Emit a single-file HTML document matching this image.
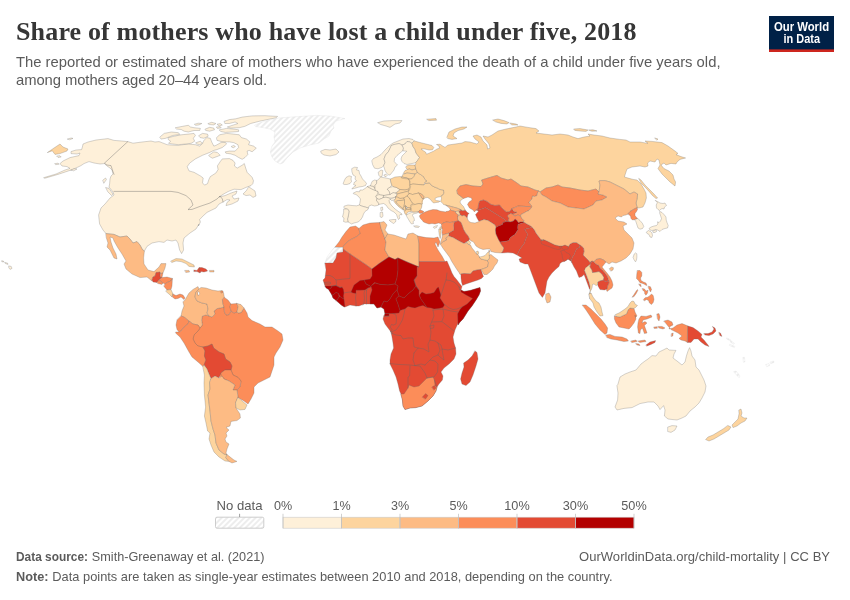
<!DOCTYPE html>
<html lang="en">
<head>
<meta charset="utf-8">
<title>Share of mothers who have lost a child under five, 2018</title>
<style>
html,body{margin:0;padding:0;background:#fff;}
body{width:850px;height:600px;overflow:hidden;position:relative;font-family:"Liberation Sans",sans-serif;}
#chart{position:absolute;left:0;top:0;width:850px;height:600px;display:block;}
.title{font-family:"Liberation Serif",serif;font-weight:700;fill:#363636;}
.sub{font-family:"Liberation Sans",sans-serif;fill:#5b5b5b;}
.foot{font-family:"Liberation Sans",sans-serif;fill:#5b5b5b;}
.leg{font-family:"Liberation Sans",sans-serif;fill:#5b5b5b;}
.logo{font-family:"Liberation Sans",sans-serif;font-weight:700;fill:#fff;}
</style>
</head>
<body>
<svg id="chart" width="850" height="600" viewBox="0 0 850 600">
<defs>
<pattern id="hatch" patternUnits="userSpaceOnUse" width="4" height="4" patternTransform="rotate(-45 2 2)">
<path d="M -1,2 l 6,0" stroke="#ccc" stroke-width="0.7"/>
</pattern>
</defs>
<rect width="850" height="600" fill="#fff"/>
<g id="header">
<text class="title" x="16" y="40.1" font-size="26" textLength="620.5" lengthAdjust="spacing">Share of mothers who have lost a child under five, 2018</text>
<text class="sub" x="16" y="67" font-size="14.8" textLength="704.5" lengthAdjust="spacing">The reported or estimated share of mothers who have experienced the death of a child under five years old,</text>
<text class="sub" x="16" y="85" font-size="14.8" textLength="251" lengthAdjust="spacing">among mothers aged 20–44 years old.</text>
</g>
<g id="logo">
<rect x="769" y="16" width="65" height="36" fill="#002147"/>
<rect x="769" y="49.4" width="65" height="2.6" fill="#ce261e"/>
<text class="logo" x="773.9" y="30.9" font-size="12" textLength="55.2" lengthAdjust="spacingAndGlyphs">Our World</text>
<text class="logo" x="783.5" y="42.8" font-size="12" textLength="36.5" lengthAdjust="spacingAndGlyphs">in Data</text>
</g>
<g id="map" stroke-linejoin="round" stroke-linecap="round" stroke="#666666" stroke-width="0.5" stroke-opacity="0.55">
<g fill="#fef0d9">
<path d="M44,177.6 56,174 65,170 70,168.4 67,166.6 62,166 60,163.6 63,161 70,157.6 79,155.6 80,153 77,154 71,153.6 71,151.6 76,150 81.6,149.6 82.4,147 83,144 88,142 96,140 108,138.6 114,140.4 122,141 127.8,141.6 133,143.2 142,142 151,141 155,142 159,141.6 160,141.9 167.1,144.7 177,145.4 188.3,144 195.4,144.7 199.7,146.1 202.5,143.3 203.9,140.5 206.7,137.6 210.3,138.3 211.7,141.9 213.8,146.1 215.9,145.4 220.9,142.6 225.2,142.3 226.6,144 222.3,147.5 216.7,149.7 213.8,150.4 209.6,152.5 202.5,155.3 195.4,158.9 189.7,163.1 187.2,166.7 189,170.9 194,172.3 200.4,175.9 203.2,178 202.5,182.9 204.6,185.1 207.5,183.7 208.9,179.4 210.3,176.6 215.9,173 218.1,169.5 217.4,165.9 220.2,161.7 222.3,158.9 229.4,158.6 232.9,160.3 235.1,163.1 234.4,165.9 237.2,168.1 242.2,165.2 244.3,163.5 245.7,168.1 247.1,172.3 252.1,177.3 253.5,180.8 252.8,183.7 251,185.6 247,187 241,189.6 234,189.2 228,191.6 223,194.4 219,197 225,195.6 231,193 237,191 236,194 232,196 234,199 239,198 238,201 232,204 226,205.6 227,202.4 230,200 227,199.6 223,202 219,204 216,208 211,210.4 207,212.4 203,216 199.6,219.6 200.4,222 198.4,226 199,224 196,229 190,233 184,238 183,243 183.6,250 181.6,253.6 179.6,250 178,243 176,240 172,241 167,240 164,242.4 159,241.6 152,243 147,246.4 144.4,251 142.4,249.6 140,245 137,241.6 133,243 130,239 127,236 120,237 114,234.4 106,233.6 103,230 99.6,224 98.6,215 101,208 105,204 110,198 114,195 113,192 109,187 109.6,184 110,179 111,176 113,174 112,170 110,168 107,166 104.4,163.6 100,164 94,163 89,161.6 84,163.6 81,165.6 76,168 70,170.4 58,174.4 45,178.2Z"/>
<path d="M106,187.6 109,188.4 113,194 111.6,195.6 108,192Z"/>
<path d="M103,180 105.6,178 106.4,179.6 104,183Z"/>
<path d="M71,170 74.4,168.6 77,169 74,170.6Z"/>
<path d="M67.6,139 71,138 73,138.4 70,139.6Z"/>
<path d="M57,156 60,155.8 61.2,157 58.4,157.4Z"/>
<path d="M55,163.6 58,163.2 59.2,164.2 56,164.6Z"/>
<path d="M216.7,137.6 219.5,134.8 226.6,133.4 233.7,134.1 239.3,134.8 241.4,137.6 246.4,139 249.9,141.9 248.5,144.7 253.5,146.1 256.3,148.2 252.1,151.8 249.2,150.4 247.1,151.1 247.8,154.6 245,157.5 242.2,159.3 238.6,157.5 235.1,155.3 230.8,153.9 225.9,153.2 225.2,151.8 229.4,151.1 235.1,151.1 238.6,147.5 237.9,144.7 233.7,142.6 229.4,141.9 225.9,141.9 220.9,141.4 217.4,140.5Z"/>
<path d="M231.5,146.4 233.7,145.4 235.4,146.5 233.4,147.7Z"/>
<path d="M208.9,155.3 213.8,151.8 217.4,152.5 220.2,155.3 216.7,156.7 212.4,158.2 210.3,157Z"/>
<path d="M168.5,137.6 174.2,136.2 181.2,134.8 188.3,134.1 194,133.4 195.4,135.5 193.3,138.3 194.7,141.2 191.2,143.3 185.5,144 178.4,144.7 172.7,144 168.5,143.3 170.6,141.2 168.5,139.7Z"/>
<path d="M160,136.9 164.2,133.4 171.3,132 178.4,132.7 179.8,134.4 172.7,135.5 165.7,138.3 161.4,139Z"/>
<path d="M199,135.5 202.5,133.4 207.5,134.1 208.2,136.2 203.9,138.3 200.4,137.6Z"/>
<path d="M196.1,142.6 200.4,141.2 202.5,143.3 199.7,144.7 196.8,144Z"/>
<path d="M175.6,127.7 182.7,126.3 188.3,125.3 190.5,127 194,127.7 200.4,128.4 199.7,130.5 194,130.5 188.3,132 184.1,131.2 181.2,129.5 177,129.1Z"/>
<path d="M194.7,124.2 198.2,123.2 201.8,123.5 199,124.9 196.1,125.3Z"/>
<path d="M219.5,129.8 226.6,128.4 233.7,129.1 238.6,129.8 238.6,131.5 232.2,132 225.2,132.4 220.9,131.5Z"/>
<path d="M205.3,129.1 209.6,127.3 213.8,128.1 214.5,129.8 209.6,131.2 206,130.5Z"/>
<path d="M208.2,123.5 211.7,122.3 215.9,123.5 213.8,124.9 209.6,124.6Z"/>
<path d="M217.4,124.2 220.2,123.6 222.3,125 219.5,125.9Z"/>
<path d="M216.7,127 220.2,126.6 221.2,127.8 217.8,128.4Z"/>
<path d="M224.4,121.3 229.4,119.6 235.8,118.8 242.2,117.1 252.1,115.9 264.8,115.7 277.6,116.4 276.1,117.8 269.1,119.2 259.2,121.3 250.7,123.5 245,126.3 239.3,127.7 230.8,128.1 227.3,127 233.7,124.9 237.9,123.5 235.1,122 229.4,123.5 225.2,123.5Z"/>
<path d="M249,187 252,189 255,191 256,196 253,197.4 250,195 246,195.6 243,194 246,191Z"/>
</g>
<g fill="#fdd49e">
<path d="M47.6,152.4 54,148 60,144 63,147 68,149 67,151 60,153.6 55,154.4 52.4,151Z"/>
</g>
<g fill="#fdbb84">
<path d="M106,233.6 114,234.4 120,237 127,236 130,239 133,243 137,241.6 140,245 142.4,249.6 144.4,251 143.6,258 144,264 148,270 154,271.6 159,267 161,263.6 166,263.6 165,268 163,273 160.4,273.6 160,272 156,273 155,276 153,277 152,281 147,277 140,277.6 132,274 126,269 124,264 126,261 122,254 118,248 114,241 113,238 110,237 111,242 113,248 116,254 117,259 114,258 110,250 107,247 108,243 106.4,238Z"/>
</g>
<g fill="#e34a33">
<path d="M153,277 155,276 156,272.4 160,272 160.4,277 162,277.6 159,280 157,282.4 153,282 152,280Z"/>
</g>
<g fill="#fc8d59">
<path d="M160.4,273.6 163,273 162,277.6 160.4,277Z"/>
<path d="M162,277.6 167,277 172.4,278.4 171,281 168,282 165,284 163,283 159,280Z"/>
<path d="M157,282.4 159,280 163,283 162,284.4 158,283.6Z"/>
<path d="M165,284 168,282 171,281 172.4,278.4 172,286 171,289.6 167,290 164,286.4Z"/>
</g>
<g fill="#fdd49e">
<path d="M167,290 171,289.6 173,294 172,297 169,294 166,291.6Z"/>
</g>
<g fill="#fc8d59">
<path d="M173,294 176,295.6 180,294 183,295 185,298 184,299.6 181,297 178,298.4 175,299 172.4,297Z"/>
</g>
<g fill="#fdd49e">
<path d="M171,261 176,258.6 182,259 188,262 194,265 194.4,267 189,266.4 186,263.6 181,261.6 176,261 172,262.4Z"/>
</g>
<g fill="#fdbb84">
<path d="M185,270.4 189,270.4 189.6,272 186,272.4Z"/>
</g>
<g fill="#e34a33">
<path d="M194,270 197,270.4 199,267.6 202,267.6 206,269 207.6,271 204,272 201,271.6 200,273 197,271.6 194,271.6Z"/>
</g>
<g fill="#fdbb84">
<path d="M209.6,270.4 214,270.4 214,272 210,272Z"/>
</g>
<g fill="#fdd49e" stroke="#fdd49e" stroke-width="0.8" stroke-opacity="1">
<path d="M393,181 405,178.5 415,177 423,185 424,195 421,207 415,209 409,209 405,207 400,203 398.5,195 400,191 396,186.5Z"/>
</g>
<g fill="#fef0d9" stroke="#fef0d9" stroke-width="0.8" stroke-opacity="1">
<path d="M365,190 377,182 389,180 391,188 395,189 395,196 389,199 391,205 395,209 391,209 385,203 378,203 375,205 365,205 361,200Z"/>
</g>
<g fill="#fc8d59" stroke="#fc8d59" stroke-width="0.8" stroke-opacity="1">
<path d="M190,325 240,325 270,345 262,375 240,381 222,379 218,373 210,369 190,351Z"/>
</g>
<g fill="url(#hatch)" stroke="#d6d6d6">
<path d="M255,125 262,122 278,118 298,116.6 316,115.4 330,116 345,118.6 336,121 333,125 334,128 331,131 329,136 324,139 319,143 310,145 300,148 293,152 287,158 283,163 280,164 275,161 272,157 270.4,152 272,146 275,142 274,137 275,132 270,129 262,127.4 256,126.6Z"/>
</g>
<g fill="#fef0d9">
<path d="M321,151 325,149.4 330,150 336,149 339,152 336,154.6 330,156 324,155 321.6,153.4Z"/>
<path d="M378,122.6 384,121 392,120.6 402,120.6 400,123 395,124 390,127.4 386,126 381,124.6Z"/>
</g>
<g fill="#fc8d59">
<path d="M244,308 247,313 248,317 252,320.6 260,324 265,327 272,327 278,331 282,334 283,340 280,347 276,353 274,357 274,365 272,371 270,377 264,380 258,383 254,387 254,393 251,399 248,404 244,401 238,397.4 237,390 240,387 241,381 238,377.4 233,375 231,370 232,366 230,362 225.6,359 224,354 219,352 213.6,348 212,344 208,346 203,347 198,346 195,343 193,339 194,335 198,331 200,328 202.4,325 201.6,320 202.4,316 206,315 209,316 212,317 215,314 214,311 217,308.6 220,308 224,307 224.4,312 226,315 229,314.6 231,311 234,313 237,312 238,313 241,312.6Z"/>
</g>
<g fill="#fdbb84">
<path d="M185,300 189,293 193,289.4 198,286.6 199,289 195.6,293 195,297 197,301 202,303 207,304 208,309 207,313 209,316 206,315 202.4,316 201.6,320 202.4,325 200,328 198,325 193,324 189,321 184,317 181,316 182,311 184,306 183,302Z"/>
<path d="M199,289 201,287.4 206,288 212,290 218,291 222,290.6 223.6,293 224.4,297.4 222.4,300 223,304 224,307 220,308 217,308.6 214,311 215,314 212,317 209,316 207,313 208,309 207,304 202,303 197,301 195,297 195.6,293Z"/>
</g>
<g fill="#ffffff">
<path d="M197.6,292.2 199,291.6 199.8,294 198.4,295.4Z"/>
</g>
<g fill="#fc8d59">
<path d="M224.4,297.4 228,300 231,304 230,307 231,311 229,314.6 226,315 224.4,312 224,307 223,304 222.4,300Z"/>
<path d="M231,304 237,303.4 238,307 237,312 234,313 231,311 230,307Z"/>
</g>
<g fill="#fdbb84">
<path d="M237,303.4 241,304.6 244,308 241,312.6 238,313 237,312 238,307Z"/>
</g>
<g fill="#fc8d59">
<path d="M181,316 184,317 189,321 188,324 184,327 181,331 179,332 177,329.4 176,325 177,320Z"/>
<path d="M176,332 179,332 181,331 184,327 188,324 189,321 193,324 198,325 200,328 198,331 194,335 193,339 195,343 198,346 203,347 205,351 204.4,356 206,360 204,365 203,366.6 198,362 192,357 189,352 184,343 180,337 175.6,333Z"/>
</g>
<g fill="#e34a33">
<path d="M203,347 208,346 212,344 213.6,348 219,352 224,354 225.6,359 230,362 232,366 231,370 225,370 221,373 219,378 215,376 211,378.6 209,374 207,369 204,365 206,360 204.4,356 205,351Z"/>
</g>
<g fill="#fc8d59">
<path d="M221,373 225,370 231,370 233,375 238,377.4 241,381 240,387 237,390 233,390 235,385 229,381 224,379 222,376Z"/>
</g>
<g fill="#fdd49e">
<path d="M203,366.6 204,365 207,369 209,374 211,378.6 209.6,383 210,389 208,395 209,403 210,411 211,421 213,429 215,435 216,443 219,450 224,454 227,454.6 226,458 229,461.4 225,461 219,457 214,452 211,445 209,439 210,433 207.6,431 206,423 204.4,416 205.6,407 204.4,395 204,383 204.4,375 204,373Z"/>
</g>
<g fill="#fdbb84">
<path d="M211,378.6 215,376 219,378 222,376 224,379 229,381 235,385 233,390 237,390 238,397.4 235.6,403 236,408 240,414 240.4,418 237,420.6 231,421.4 230,426 226,427.4 229,430 226,433 227,436 225,439 226,442 229,444 227,449 226,453 227,454.6 224,454 219,450 216,443 215,435 213,429 211,421 210,411 209,403 208,395 210,389 209.6,383Z"/>
<path d="M227,454.6 234,460 237,461.4 232,463 229,461.4 226,458Z"/>
</g>
<g fill="#fdd49e">
<path d="M238,397.4 241,400 247,405 245,409.4 240,410 236,408 235.6,403Z"/>
</g>
<g fill="#fef0d9">
<path d="M372,160.5 373.5,158.5 377,157 381,154.5 385,150 389,146 393,143 398,141 403,139 409,138.5 413,139.5 414.5,141 412,143.5 410,142 407,141.5 405,144 402,145 399,143.5 397,144 394,144.5 391.5,145.5 390,148.5 388.5,151.5 385.5,155 384,159 385,162.5 383.5,166 381.5,167.5 378,168.8 374.5,168.2 372.8,165Z"/>
<path d="M391.5,145.5 394,144.5 397,144 399,143.5 402,145 403.5,148 403,150.5 400,153 397,155.5 394.5,158.5 394.2,161.5 396,163.5 397.5,165 395,167 394,170 392,172.5 390,175 388.5,175 386.5,173 385,170.5 384,167 383.5,166 385,162.5 384,159 385.5,155 388.5,151.5 390,148.5Z"/>
<path d="M403,150.5 403.5,148 402,145 405,144 407,141.5 410,142 412,143.5 413,146.5 415,149.5 416,153 419.5,157.5 417.5,160.5 415.5,162.8 412,163.5 407,164.5 404,163.5 402,161.5 401,159 402,156 404,154 406.5,151.5Z"/>
<path d="M378.5,172 381,170 382.8,170.5 382.5,174 382,176.5 380.5,177 379,175.5Z"/>
<path d="M384.3,174.8 386,174.2 387.2,175.5 386,176.7 384.6,176.2Z"/>
<path d="M343.2,183.5 344.5,180 346,177.5 349,175.8 351.5,176.5 351,179 351.5,181.5 350,183.5 347,184.5 344.5,184.5Z"/>
<path d="M352,168.5 354.5,167.2 357.5,167.5 356.5,170 359,170.5 359.5,173.5 361,176 362.5,179 365,181.5 366.5,183.5 365.5,185.5 362.5,186.5 359,187 355,188.2 351.8,189 353.5,187 356,185.5 353.5,184.5 354.5,182 356.5,181 355,179 355.5,176.5 353,175 352,172Z"/>
<path d="M353.5,193 356.5,191.5 359.5,191.8 360,190 362.5,190 365,188.5 367.5,186.5 370,188 373,189.5 375.5,190.5 378,191.5 377.5,194 376,196 377,198.5 376.5,200.5 378.5,203 379,204.5 377.5,205.5 374.5,206 371.5,205 369,206 368.5,208 365,207 361.5,206 359.5,205 360,202 360.5,199 358.5,196.5 356,194.5 354,194Z"/>
<path d="M381,207.5 382.5,207 382.8,210 381.5,210.8Z"/>
<path d="M344.5,206 348,205 352,205.5 356.5,205.8 359.5,205 361.5,206 365,207 368.5,208 368,209.5 365,211.5 363.5,214 362.5,217 360.5,220 358,222 354,223 351.5,224 350,223 348,222 347.5,219 348.5,215 349,211 347.5,209 345,208.8 344,207.5Z"/>
<path d="M344,209 347.5,209 349,211 348.5,215 347.5,219 348,222 345.5,222.2 343.5,221.5 344,218 342.5,217 343.5,213Z"/>
<path d="M367.5,186.5 370.5,185.5 373.5,186.5 375,188.5 375.5,190.5 373,189.5 370,188Z"/>
<path d="M370.5,185.5 372,181.5 374.5,180 377,180.5 376.5,183.5 375,185.5 375,188.5 373.5,186.5Z"/>
<path d="M377,180.5 379,179 380.5,177 383,177.5 386,178 390.5,179 391,182.5 392,185.5 389.5,187.5 387.5,189 389.5,192 390,194.5 387,195 384,195.5 380.5,195 379,194.5 378,191.5 375.5,190.5 375,188.5 375,185.5 376.5,183.5Z"/>
<path d="M376,196 379,194.5 380.5,195 384,195.5 383.5,197.5 381.5,198.5 379,199.5 377,198.5Z"/>
<path d="M384,195.5 387,195 390,194.5 393,192.5 396,193 397,195 395.5,197 393,198 389,198 386,197.2 383.5,197.5Z"/>
<path d="M387.5,189 389.5,187.5 393,186.5 396.5,187.5 400,189.5 398,191.5 396,193 393,192.5 390,194.5 389.5,192Z"/>
<path d="M378.5,203 376.5,200.5 377,198.5 379,199.5 381.5,198.5 383.5,197.5 386,197.2 389,198 390.5,199 389,200.5 389.5,203 392,206 395,209 398.5,211.5 401.5,213.5 402,214.8 400,214.5 399,216 400,218 398.5,219.5 397.5,217.5 396.5,214.5 394,212 391,210.5 388,208 386,205 383.5,203.5 381,204 379,204.5Z"/>
<path d="M389.5,220 393,219.5 396,219.5 395.5,222 393.5,223.5 390.5,221.5Z"/>
<path d="M380.5,212.5 382.5,212 383,216 382,217.5 380.5,217Z"/>
<path d="M390.5,199 393,198 395.5,197 395.5,198.5 394.5,200 392,200.5Z"/>
<path d="M406.5,215 409,213.5 411.5,212.5 414,212 416.5,211.8 418.5,211.5 417.5,213 415,213.5 413,214 412.5,215.5 414,218 414.5,220.5 413,221.5 413.5,223.5 411.5,224 410,222 408.5,219.5 407,217Z"/>
<path d="M414,226 417,225.8 419.5,226.5 418.5,227.5 415.5,227.2Z"/>
</g>
<g fill="#fdd49e">
<path d="M390.5,179 395,177 400,176.5 405,177.5 408.5,178 409.5,181.5 410,185 409,189 405,190 400,189.5 396.5,187.5 393,186.5 392,185.5 391,182.5Z"/>
<path d="M398,191.5 400,189.5 405,190 409,189 408.5,191 405,192 401,193 397,194 396,193Z"/>
<path d="M397,195 397,194 401,193 405,192 408.5,191 409.5,193 407,196 404,198 400,198.5 397,197 395.5,197Z"/>
<path d="M394.5,200 395.5,198.5 395.5,197 397,197 400,198.5 404,198 404.5,200 401,200.5 398,200.5 396,201.5 397.5,204 401,207 404,209.5 403,210 399,207 395.5,203.5 394,201.5Z"/>
<path d="M396,201.5 398,200.5 401,200.5 404.5,200 404.5,203.5 404,206.5 403,208.5 401,207 397.5,204Z"/>
<path d="M404,198 407,196 409.5,198 411,201 412.5,203 411.5,206 410,208 407.5,207.5 405.5,206 404,206.5 404.5,203.5 404.5,200Z"/>
<path d="M403,208.5 404,206.5 405.5,206 407.5,207.5 410,208 411.5,209 411,211.5 408.5,212 407,213 406.5,215 405,214 404,211 404,209.5Z"/>
</g>
<g fill="#ffffff">
<path d="M405.8,207.4 407,207 407.6,208 406.6,208.8Z"/>
</g>
<g fill="#fdd49e">
<path d="M406.5,166 409,165 415,165 415.8,169 412,170 409.5,169 407.5,169.5 406,168Z"/>
<path d="M403.5,173 405,170.5 407.5,169.5 409.5,169 412,170 415.8,169 417.5,172.5 415,174 411,173.5 407,173 404,174Z"/>
<path d="M404,174 407,173 411,173.5 415,174 414,176.5 411.5,179 409,179 407,178 404.5,177.5 402,177 402.5,175Z"/>
<path d="M401.5,177 404.5,177.5 407,178 408.5,179 406,178.8 402,178.2Z"/>
<path d="M409,179 411.5,179 414,176.5 415,174 417.5,172.5 420.5,174.5 423.5,176.5 425,179.5 427,181 424.8,182.5 424,185 418.5,184.5 413,184 410,184.8 410,181.5Z"/>
<path d="M410,184.8 413,184 418.5,184.5 424,185 425.5,183.5 429.5,182.8 431,185 434,186.8 437.2,188 440,189.5 443.5,190 444,193 443,195 441,196 440,196.8 437.5,197.2 435.2,198.3 435,199.5 436.2,200.5 438.5,200.8 440,201.2 438.5,202.2 436,202.5 433.5,203 431.8,201.2 430,199 427.5,197.5 425.5,197.8 423.5,199 423.8,196.5 421.5,194 418.5,193 416.5,193.5 412.5,194.5 409,193.5 408,192 409.5,190 410.5,187Z"/>
</g>
<g fill="#fdbb84">
<path d="M418.5,193 421.5,194 423.8,196.5 423.5,199 422,198.5 420.5,196 418,193.5Z"/>
</g>
<g fill="#fdd49e">
<path d="M409.5,193.5 412.5,194.5 416.5,193.5 418.5,193 420.5,196 422,198.5 423.5,199 422.5,200 422,202 422.5,204 419,203.5 415,204.5 412.5,203 411,201 409.5,198 407,196 408.5,194.5Z"/>
<path d="M411,205 415,204.5 419,203.5 422,204.5 421.5,208 420,210 418.5,211.5 416.5,211.8 414,212 411.5,211.5 410.5,209 411,207Z"/>
<path d="M414.5,141 420,142.5 426,144 432,145.5 433.8,147.5 432.5,149.8 429,150 424,148.8 421,149 423.5,150.8 425.5,152 426.5,154.2 429,153.2 433.5,151.2 437,149 439.5,148.2 439,146 436.5,144.5 440,144.2 443,146.2 445,147.4 448,145 455,144 462,143 465,141.6 470,142 477,144 479,142 475,139 473,136 477,135 481,137 483,141 487,145 487.6,149 490,148 489,144 485,139 483,136 488,137 492,135 498,131 506,129 516,127 520,126 528,127.4 536,128.6 539,131 536,133 544,134 552,135 560,134 568,135 573,137 578,138.6 584,137 590,136 588,134 594,135 602,136 610,138 610,138 620,139.4 626,140 630,142 640,142 648,143.4 645,141 652,141.4 662,142.6 668,146 675,151 678,153.4 676,154.6 681,156.6 685.6,158 680,159.4 677,162 676,164 671,163.4 666,165 664,163 661,165 664,168.6 669,171 673,175 674,179 675.6,182 675,186 670,182 666,178 662,174 659,170 658,168.6 660,165 659,160 657,159 655,162 650,161 647.6,163 648,166 645,167 640,166 632,167 627,169 625,175 624.4,177 630,178.6 633,179.4 637,180 641,184 644,189 646,193 646.4,198 645,203 643,207 639,208 637.2,207.8 636,203 637,199 637.6,194 634,192 630,194 624,189 616,185 610,182 605,180.6 600,180.6 599,181 600,185 599,192 596,189 588,191 580,190 570,188 562,187 558,185 552,187 546,188 540,192 539,191 535,190 528,187 521,186 517,183 511,179 508,180 501,178 497,175.4 488,178 481.6,180 483,184 481,186.6 473,186 466,184.6 460,186 457,190 457.6,194 463.5,198.5 461,200 460,202 461,204 463.5,206.5 464.5,208.5 466,211 464.5,210.2 463,211 461.5,210.2 460,209.5 458,208.5 456,207.8 453.5,207.2 451,206.5 448.5,205.8 446,205.2 443.5,204.5 442,202.5 440.5,201.5 441.2,200 441.5,198.5 441,196.8 441,196 443,195 444,193 443.5,190 440,189.5 437.2,188 434,186.8 431,185 429.5,182.8 425.5,183.5 424.8,182.5 427,181 425,179.5 423.5,176.5 420.5,174.5 417.5,172.5 415.8,169 415,165 416,164 415.5,162.8 415.5,162.8 417.5,160.5 419.5,157.5 416,153 415,149.5 413,146.5 412,143.5Z"/>
<path d="M447,137 449,132 455,129 462,127 467,127 464,129 458,130.6 454,133 453,136 457,138.6 452,139.4 448,138.6Z"/>
<path d="M493,120 498,119 504,120.6 509,122.6 507,124 501,123.4 496,122Z"/>
<path d="M510,123 516,124 518,125 512,125Z"/>
<path d="M574,129 580,128.6 588,130 586,131.4 580,131 575,130.4Z"/>
<path d="M589,130 593,129.8 597,131 592,131.2Z"/>
<path d="M639,178.6 641,180 645,185 650,190 654,194 657.6,198 656,198.6 652.4,195.4 649,191.4 645,187 641,183Z"/>
<path d="M655,138 658,139 657,140Z"/>
</g>
<g fill="#fc8d59">
<path d="M457,190 460,186 466,184.6 473,186 481,186.6 483,184 481.6,180 488,178 497,175.4 501,178 508,180 511,179 517,183 521,186 528,187 535,190 539,191 537.5,193 537,195.5 534.5,196.5 532.5,196 532,199 530,201 529,202.5 530.5,204.5 532,206 531.5,207.5 530,206.5 526,206.5 522,206.2 518,206 515,207.5 512,208.5 511,210 509,212 506.5,212 504,210 501.5,207.5 499.5,205 495,205.5 491,204.5 487,201.5 483.5,200 480,201 479.5,201.5 478.5,205 478,209 476,210 474.5,212 473,210 469.5,208 467.5,204.5 469,202 472,200 471.5,198 468,197 463.5,198.5 457.6,194Z"/>
<path d="M540,192 546,188 552,187 558,185 562,187 570,188 580,190 588,191 596,189 599,192 598,194 603,195 607,197 602,200 596,201 593,205 584,209 576,208 568,207 560,203 552,201 546,197 542,195Z"/>
</g>
<g fill="#e34a33">
<path d="M478,209 478.5,205 479.5,201.5 480,201 483.5,200 487,201.5 491,204.5 495,205.5 499.5,205 501.5,207.5 504,210 506.5,212 509,212 511,210 512,208.5 514,211.5 517,212.2 515,213.5 512.5,214 510.5,213.5 509,214.5 507.5,216 509,218 508.5,220.5 510,222 507,221.5 504,219 500,216.5 496,214 492,211.5 488,209 485.5,207.5 483,208.5 480,209.5Z"/>
<path d="M476,210 478,209 480,209.5 483,208.5 485.5,207.5 488,209 492,211.5 496,214 500,216.5 504,219 507,221.5 503,222.5 502.5,224.5 498.5,226 496,227.5 495,225 492,223 488,220.5 484,219.5 480,221 479,221.5 477,218 475.5,214.5 477,213 478.5,211Z"/>
</g>
<g fill="#fc8d59">
<path d="M512,208.5 515,207.5 518,206 522,206.2 526,206.5 530,206.5 531.5,207.5 529,210.5 526.5,211.5 524,213 521,214.5 520.5,216 518,215 515,216 513,215 512.5,214 515,213.5 517,212.2 514,211.5Z"/>
<path d="M507.5,216 509,214.5 510.5,213.5 512.5,214 513,215 515,216 518,215 520.5,216 522,218.5 524,220.5 523.5,222 520,222 518.5,222.8 516.5,220 515,219 513.5,221 510,222 508.5,220.5 509,218Z"/>
</g>
<g fill="#fdbb84">
<path d="M446,205.2 448.5,205.8 451,206.5 453.5,207.2 456,207.8 458,208.5 460,209.5 461,210.5 459.5,211 457.5,211.2 455.5,211.6 453.5,211 451.5,210.5 450.2,209.5 449.5,208 447.8,206.8Z"/>
</g>
<g fill="#fdd49e">
<path d="M455.5,211.6 457.5,211.2 459.5,211 459,212 460,213.5 460.5,215 459.5,215.2 458.2,214.8 456.8,214 455.8,213Z"/>
</g>
<g fill="#e34a33">
<path d="M460,209.5 461.5,210.2 463,211 464.5,210.2 466,211 467.5,212.5 469.2,213.5 468,214.2 467.5,216 467.2,218 466,217 465,215.8 463.5,215.5 462,216 460.5,215 460,213.5 459,212 459.5,211 461,210.5Z"/>
<path d="M458.8,215.8 460,216.2 461,217.2 460,217.5 459,216.8Z"/>
</g>
<g fill="#fc8d59">
<path d="M420,215 422,213.5 425,212 429,210.5 433,209.5 437,209.8 440,211 443,211.5 446,212 446,211.6 449,211 450.2,209.5 451.5,210.5 453.5,211 455.5,211.6 455.8,213 456.8,214 458.2,214.8 458,216 457.8,218 458.5,220.8 454.5,221.8 454,221.8 450,222.5 446.5,222 443,223 441.5,224.5 440.5,223.5 438.5,223 435,224 432,223.5 429,224 426,223 423.5,222 422,220 420.5,218.5 419.5,216.5Z"/>
<path d="M418.5,211.5 420,210 422,210.5 424,211.8 422.5,213 420,213.5 418.8,212.8Z"/>
</g>
<g fill="#fef0d9">
<path d="M433.5,227 435.5,226 437.5,225.5 436.5,227.5 434.5,228.2Z"/>
</g>
<g fill="#fdbb84">
<path d="M458,216 459.5,215.2 460.5,215 462,216 463.5,215.5 465,215.8 466,217 467.2,218 468,220 469,221.5 471,222.5 475,223 479,221.5 480,221 484,219.5 488,220.5 492,223 495,225 496,227.5 495.5,230 496,234 498.5,239.5 500,242 501,244 504,248 503,251 501.5,253 495,252.5 491,251.5 490,249 487,249 483,249.5 479,248 476,246 474.5,243.5 473,241.5 471,241 469.5,239 468,236 465.5,233 463.5,229.5 462.5,226.5 461,222.5 458.5,220.8Z"/>
</g>
<g fill="#e34a33">
<path d="M449,233 454,230 453.5,225 454.5,221.8 458.5,220.8 461,222.5 462.5,226.5 463.5,229.5 465.5,233 468,236 469.5,239 469,240.5 467,241.5 464,243.5 459,241 453,237.5 448.5,236 449,234.5Z"/>
</g>
<g fill="#fc8d59">
<path d="M441.5,224.5 443,223 446.5,222 450,222.5 454,221.8 454.5,221.8 453.5,225 454,230 449,233 446,234 442.5,235 442,232.5 442.5,229.5 441.5,227Z"/>
</g>
<g fill="#b30000">
<path d="M496,227.5 498.5,226 502.5,224.5 503,222.5 507,221.5 510,222 513.5,221 515,219 516.5,220 518.5,222.8 520,222 523.5,222 524.5,222.5 521,223.5 518,224.5 517.8,227.5 518,230 516.5,232 515,234.5 512.5,236 510,238 509,240.5 505,241.5 500,242 498.5,239.5 496,234 495.5,230Z"/>
</g>
<g fill="#e34a33">
<path d="M518,224.5 521,223.5 524.5,222.5 527,224 530,225.5 532,227 530,228 527,228.5 524.5,229.5 526,231.5 527.5,234 527,236.5 525.5,239.5 524.5,243 523,245 520,249 517,255 513,253 508,252.6 501.5,253 503,251 504,248 501,244 500,242 505,241.5 509,240.5 510,238 512.5,236 515,234.5 516.5,232 518,230 517.8,227.5Z"/>
<path d="M532,227 534.5,230 536,233 539,237 541,239.5 544,240.5 541,240.5 543.5,239.5 547,241 551,243 555,245 559.5,246 562,246 565,245 568.5,246.5 570,244 573,242.5 576.5,242.5 580,245 579.5,247.5 577,248.5 575.5,251 574,255 572.5,257 571.5,260 572,263 571,261 569.5,260 568,259 566,260.5 564,261.5 562,262 560,263.5 559,266.5 556,269 552,273 549,277 547,281 546,287 545,293 542.4,297.4 539,293 536,285 533,277 530,269 528,264 525,264 520,262 519,259 522,258 517,255 520,249 523,245 524.5,243 525.5,239.5 527,236.5 527.5,234 526,231.5 524.5,229.5 527,228.5 530,228Z"/>
<path d="M541,240.5 543.5,239.5 547,241 551,243 555,245 559.5,246 560.5,249 558,249.5 554,248.5 550,247 546,245.5 542,244Z"/>
<path d="M562,246 565,245 568.5,246.5 568,249 564,249.5 562,248.5Z"/>
<path d="M561,251 564,250 566,252.5 569.5,254 570.5,256.5 569.5,258 571,261 569.5,260 568,259 566,260.5 564,261.5 562.5,258 562,254.5Z"/>
</g>
<g fill="#fdbb84">
<path d="M546,294 549,293 551,297 550,302 547,303 545.6,299Z"/>
<path d="M539,191 540,192 542,195 546,197 552,201 560,203 568,207 576,208 584,209 593,205 596,201 602,200 607,197 603,195 598,194 599,192 600,185 599,181 600,180.6 605,180.6 610,182 616,185 624,189 630,194 634,192 637.6,194 637,199 636,203 637.2,207.8 635,208.5 632.5,210 630,211.5 628,214 626,215 623,215.5 621.5,217 618,216 615,218 618,221 624,222 627,224 623,226 624,230 628,234 632,238 634,243 633,249 630,254 626,258 621,261 616,263 612,262 609,264 606,262 603.5,260 600,258.5 596,259.5 594,262 592,261 590,262.5 588,260 585.5,257.5 583,255 584,251.5 583.5,248 580,245 576.5,242.5 573,242.5 570,244 568.5,246.5 565,245 562,246 559.5,246 555,245 551,243 547,241 543.5,239.5 541,240.5 544,240.5 541,239.5 539,237 536,233 534.5,230 532,227 530,225.5 527,224 524.5,222.5 523.5,222 524,220.5 522,218.5 520.5,216 521,214.5 524,213 526.5,211.5 529,210.5 531.5,207.5 532,206 530.5,204.5 529,202.5 530,201 532,199 532.5,196 534.5,196.5 537,195.5 537.5,193Z"/>
</g>
<g fill="#fef0d9">
<path d="M633.2,257 634.2,254 635.5,252.9 636.8,253.8 636.9,257 636.5,260 635.5,261.8 634.2,260Z"/>
</g>
<g fill="#fdbb84">
<path d="M609.5,268.5 611.5,267 613.5,267.8 613,270 611,271Z"/>
</g>
<g fill="#e34a33">
<path d="M580,245 583.5,248 584,251.5 583,255 585.5,257.5 588,260 590,262.5 592,261 590.5,264 588,266 585.5,268 584.5,270.5 586,274 587.5,278 589,282 590,286 591,290 589.5,289 588,285 586.5,281 585,277 584,274.5 582,276.5 579,277.5 578,275 576.5,271 574,267 572,263 571.5,260 572.5,257 574,255 575.5,251 577,248.5 579.5,247.5Z"/>
</g>
<g fill="#fdd49e">
<path d="M585.5,268 588,266 590.5,264 590,267 592,270 592.5,272.5 596,272 599,271.5 602,274 604,277.5 603.5,280 600,281 598,282 597.5,285 596,285.5 594,284 592.5,284.5 592,288 591,290 589,294 591,293 590,299 590,286 589,282 587.5,278 586,274 584.5,270.5Z"/>
</g>
<g fill="#e34a33">
<path d="M590.5,264 592,261 594,262 596,264 599,265.5 600,268 602.5,270 605,273 607.5,276.5 608.5,280 606.5,282 604.5,281 603.5,280 604,277.5 602,274 599,271.5 596,272 592.5,272.5 592,270 590,267Z"/>
</g>
<g fill="#fc8d59">
<path d="M594,262 596,259.5 600,258.5 603.5,260 606,262 604,264.5 602,267 604,269.5 607,273 610,277 612,281 613,285 612,288 609,290 607,291.5 606.5,290 607.5,286 609,283 608.5,280 607.5,276.5 605,273 602.5,270 600,268 599,265.5 596,264Z"/>
</g>
<g fill="#e34a33">
<path d="M598,282 600,281 603.5,280 604.5,281 606.5,282 608.5,280 609,283 607.5,286 607,289 604.5,290 600,289.5 598,286Z"/>
</g>
<g fill="url(#hatch)" stroke="#d6d6d6">
<path d="M325,263 327,257 330,253 333,249 335,247 343,247 343,252 337,253 336,258 333,263Z"/>
</g>
<g fill="#fc8d59">
<path d="M335,247 339,242 342,237 346,231.6 350,227 355.6,226 359,228.4 360,234 356,237 350,240 346,243 343,247Z"/>
<path d="M359,228.4 363,225 370,223 380,222.4 381,228 384,236 386,242 385,250 389,257 380,263 372,269 365,264 356,258 350,254 343,249 343,247 346,243 350,240 356,237 360,234Z"/>
</g>
<g fill="#fdbb84">
<path d="M380,222.4 384,221.6 387,225 385,230 388,234 385,239 384,236 381,228Z"/>
<path d="M388,234 394,235 400,237 406,239 408,234 413,233 418,236 419,244 419,261 419,267 408,262.4 398,258 395,259.6 389,257 385,250 386,242 385,239Z"/>
</g>
<g fill="#fc8d59">
<path d="M418,236 426,237.6 434,238 438,237 440,242 438,247 436,242 435,244 438,250 442,256 445,261.6 419,261.6 419,244Z"/>
</g>
<g fill="#e34a33">
<path d="M325,263 333,263 336,258 337,253 343,252 343,249 350,254 356,258 365,264 372,269 380,263 389,257 395,259.6 398,258 408,262.4 419,267 419,261.6 445,261.6 447,261 450,268 452,273 454,276.5 457,280 460,284 462,286.5 461,290 464,291.5 470,290.5 475,289 480,287.5 480.5,291 479,295 476,300 472,306 468,311 463,319 460,322 458,325 459,321 455,330 453,337 454,343 455.6,348 456,354 454,359 449,364 444,368 441,372 443,376 442.4,380 439,384 437,387 436,391 433,396 428,401 422,406 416,407.6 410,408 405,409.6 403,406 402.4,400 401,394 399.6,391 398,384 396,377 393,370 390,364 390,360 391,354 393.6,348 393,343 392,337 391,332 388,328 385,324 383,319 384,315 385,314 384,309 381,307 377,308 374,304 370,304 367,304 364,304 359,306 356,306 350,305 345,307 344,307 340,304 337,300 333,298 331,293 329,289 325,286 323,280 325,278 326,270Z"/>
<path d="M475,351 477,352.4 478,359 476,366 473,375 470,382 466,385.6 462,384 460.6,379 462,373 464,367 463.6,363 468,360 472,356Z"/>
</g>
<g fill="#fc8d59">
<path d="M401,394 404,394 408,388 409,385 414,387 419,386 423,382 427,378 433,377 434.4,380 435,386 437,387 436,391 433,396 428,401 422,406 416,407.6 410,408 405,409.6 403,406 402.4,400Z"/>
</g>
<g fill="#e34a33">
<path d="M422.4,397 425.6,393.6 428,395.6 425.6,399Z"/>
<path d="M432,387 434.4,385.6 436,388 434,390Z"/>
</g>
<g fill="#b30000">
<path d="M372,269 380,263 389,257 395,259.6 398,258 398,270 397,278 395,284 388,285 380,284.4 374.5,282.5 372,285 371,287 370,286 366,284 364,280 370,279 372,276Z"/>
<path d="M398,258 408,262.4 419,267 417,267 417,276 414,280 416,286 413,290 408,294 404,298 399,296 397,290 398,286 395,284 397,278 398,270Z"/>
<path d="M371,286 375,283 380,284.4 388,285 395,284 398,286 397,290 393,294 390,299 387,302 384,301 381,307 377,308 374,304 370,304 370,296 372,290Z"/>
<path d="M397,290 399,296 396,299 398,304 400,310.5 399,313 393,313.5 389,313.5 385,313.5 384,309 381,307 384,301 387,302 390,299 393,294Z"/>
<path d="M399,296 404,298 408,294 413,290 416,286 419,290 419,295 421,299 427,307.5 423,305.5 419,306.5 415,308 412,307.5 408,306.5 405,309 403,309.5 400,310.5 398,304 396,299Z"/>
<path d="M419.5,295 422,292 426,294 430,293.5 434,292.5 437,288 438.5,287 440,292 441,295 440,298 444,304 444.5,305 443,307.5 439,308.5 434,309 431,308 427,307.5 421,299Z"/>
<path d="M461,290 464,291.5 470,290.5 475,289 480,287.5 480.5,291 479,295 476,300 472,306 468,311 463,319 460,322 458,325 457.6,314 458,313 460,309.5 462,307 467,304 472.5,298.5 466,295 461,292Z"/>
<path d="M351,292 354,285 360,280.5 364,280 366,284 370,286 371,287 368,288 365,290 360,290.2 356,290.2 356,293.5 353,293Z"/>
<path d="M332,286 336,285.5 340,287.5 342,287 343.5,289.5 344,293 343.5,296 344,299 342,298 340,296.5 338.5,293.5 336,292.5 333,295 332,295 330,292 328.5,289.5 331,288Z"/>
<path d="M333,295 336,292.5 338.5,293.5 339,297 337.5,299.5 336,300.5 333,298 332,295Z"/>
<path d="M336,300.5 337.5,299.5 339,297 340,296.5 342,298 344,299 344.5,303 345,307 342,305.5 339,303Z"/>
<path d="M325,286 328.5,286 332,286 331,288 328.5,289.5 326,288Z"/>
<path d="M385,313.5 389,313.5 389,316 385,316Z"/>
</g>
<g fill="#fdbb84">
<path d="M440.5,244 443,241.5 446.5,240 445.5,238 448.5,236 453,237.5 459,241 464,243.5 467,242.5 468.5,244.5 470.5,245 472,248 474.5,251 476,253.5 478,254.5 479.5,257 481,259 487.5,260.5 488.5,263 487.5,267 484,268.5 481,269.5 477,270 473,271 470.5,274 464,273.5 461,274 460,274.5 459,272.5 456.5,269 454,265 451.5,261 449.5,257 446.5,253 443.5,249 441.5,246Z"/>
</g>
<g fill="#e34a33">
<path d="M461,274 464,273.5 470.5,274 473,271 477,270 481,269.5 482.5,274 483.5,276.5 481.5,278.5 478,280 472,282 466,284 462.5,285.5 461.5,282 461,278Z"/>
</g>
<g fill="#fdbb84">
<path d="M487.5,260.5 489.5,258 489,255 491,254.5 494,257 498,260 497,263 494.5,266 493,269 490,272 487,274.5 484,274.5 482.5,272 481,269.5 484,268.5 487.5,267 488.5,263Z"/>
<path d="M489,250.5 490,250.8 489.8,252.2 489,251.8Z"/>
</g>
<g fill="#fdd49e">
<path d="M479.5,257 482,256.5 485,255.5 487.5,252.5 489,251.8 489.5,254 489,255 489.5,258 487.5,260.5 481,259Z"/>
<path d="M476.5,251.5 478,251 478.8,253 478,254.5 476.8,254Z"/>
<path d="M467,241.5 469,240.5 470.5,242.5 470,244.5 468.5,244.5 467.2,242.8Z"/>
</g>
<g fill="#fdbb84">
<path d="M440.5,244 443,241.5 446.5,240 445.5,238 448.5,236 449,233 446,234 442.5,235 442,238 441,241Z"/>
</g>
<g fill="#fdd49e">
<path d="M439,229 440.5,228.5 441.2,230.5 440.8,234.5 440.2,238.5 439.3,235 438.8,231.5Z"/>
<path d="M440.2,227 441.8,226.8 441.5,229 440.5,229.5Z"/>
<path d="M589,294 591,293 593,297 596,301 599,303 601,307 602,312 603,315.6 600,316 597,312 594,307 593,303 590,299Z"/>
</g>
<g fill="#fc8d59">
<path d="M582.4,305 586,305 591,309 596,314 601,319 605,324 607.6,328 607,333 605,334.4 600,330 595,324 590,316 586,310Z"/>
<path d="M606,335 610,334.4 615,336.4 622,337 627,339 628.4,341 624,341.6 617,340 611,339 607,337.6Z"/>
<path d="M631,341 636,340 637,341.6 632,342.6Z"/>
<path d="M638,341 645,340 646,341.6 640,342.4Z"/>
<path d="M636,343.6 639,344 640,345.6 637,345Z"/>
</g>
<g fill="#e34a33">
<path d="M646,345 650,342 655.6,340.6 655,342.4 651,344.4 647,346Z"/>
</g>
<g fill="#fc8d59">
<path d="M614.5,316 616.5,316.5 620,317 623,315.5 626.5,314 628,310 630,308 634,308.5 635,312 637,316 635.5,317.5 635,315 636,319 634,323 631,327 629,329 624,328 619,327 616,323 614.4,319 614.4,316Z"/>
</g>
<g fill="#fdd49e">
<path d="M615.5,314.5 619,313 622,311 625,309 628,306.5 630,303 632,301 634,301.5 635,304 637.5,305.5 635.5,307.5 634,308.5 630,308 628,310 626.5,314 623,315.5 620,317 616.5,316.5Z"/>
</g>
<g fill="#fc8d59">
<path d="M639,319 641,316 646,316.4 651,315 652,317 647,319 643,320 642,323 645,321.6 647,323 644.4,325.6 646,330 647,333 644.4,333.6 642.4,328 640.4,330 640,333.6 638.4,333 637.6,327 638,323Z"/>
<path d="M657,314 659,313.6 660,317 659,321 657.6,319Z"/>
<path d="M654,327 657,326.8 657.4,328.2 654.4,328.4Z"/>
<path d="M658,326.4 662,326.4 665,328 663,329 659,328Z"/>
<path d="M664,321 668,320 672,322 673,325 670,326.4 669,329 673,328 677,325 682,323.6 688,326 687.6,342.4 685,341 681,340 679,338.4 682,336 678,333 674,331 671,329.6 668,326 666,323.6Z"/>
<path d="M671.6,333.6 673.2,333 672.8,336 671.4,336.4Z"/>
</g>
<g fill="#e34a33">
<path d="M688,326 693,327.6 698,331 702,334.4 701,337 704,340 708,345 709,346.6 705,345 701,342 698,339 694,339 691,342.4 687.6,342.4Z"/>
<path d="M704,333.6 708,333.6 712,332 714,329 712.4,326.4 715,328 716,331 713,334 709,335.6 705,335Z"/>
<path d="M719,332.4 720.4,333 722,336.4 720,335.6Z"/>
</g>
<g fill="#fc8d59">
<path d="M637.5,270.5 640,270.5 641.8,272.5 641.8,276 640.5,278 641,280.5 643.5,282 646,283 647,285.5 645.5,285 644,284 642,283.2 640,282.8 638.5,280.5 636.5,278.5 636.8,274Z"/>
<path d="M639,284 640.8,284.5 641.2,286.8 639.8,285.8Z"/>
<path d="M648.5,286.2 650.5,286.8 651.5,289.5 650.5,292 649.5,290 648.5,288Z"/>
<path d="M642.5,288.5 644.5,289 645.5,290.5 647,291 648,290 647.5,293 646,295.2 644.8,294 644.5,291.5 643,290.5Z"/>
<path d="M632.2,297 634,294.5 636.2,291 637.5,289.5 637.8,290.5 636.2,293.5 634,296.5Z"/>
<path d="M643.5,299.5 645,297.8 647.5,297.2 649.5,296 651.5,294 653.2,295.5 654,299.5 653.2,302.5 651.5,304.5 649.5,303 648.5,300.5 646.5,299.5 644.5,300.8Z"/>
</g>
<g fill="#fef0d9">
<path d="M618,384 620,377 625,374 630,372 636,370 641,364 645,361 648,359 652,355.6 656,356 659,352 664,349.6 667,348 669,350 676,350.4 674,354 673,358 677,361 682,365 685,362 686.4,356 688,351 689.6,347.6 691,351 692,356 695,360 696,367 699,370 701,374 704,380 706,386 705,392 702,398 699,403 695,407 690,411 686,416 682,418 677,420 673,419.6 668,419 664.4,416 665,410 663.6,405.6 660,409.6 658,406 654,402 648,402 640,403.6 632,407.6 624,408.4 617,410 615,407 617.6,400 618,393 617,386Z"/>
<path d="M668,427 672,425.6 677,426 675,430 671,432.4 668,431.6Z"/>
</g>
<g fill="#fdd49e">
<path d="M739,410 741,409 742,413 741,416 744,418 747,418 745,421 741,423 737,426 733,427.6 732,425 735,422 738,419 739,414Z"/>
<path d="M728,425.6 731,427 729,430 724,433 719,436 714,439 709,441 705.6,439.6 708,437 713,435 718,432 723,429Z"/>
</g>
<g fill="url(#hatch)" stroke="#d6d6d6">
<path d="M734,371.6 736,371 740,376 739,377.6 736,374.4Z"/>
</g>
<g fill="#fef0d9">
<path d="M655.5,200.5 657.5,201.5 660,203 663,203.5 665,203 666.5,205.5 664.5,207 664,209 662,208.5 660.5,209.5 659.5,210.5 658,209.5 656.5,208 656.2,205 657.2,203Z"/>
<path d="M660,211.5 662,212.5 664,214.5 666,217 666.2,220 667,222.5 668.2,225.5 667.5,228 665,228.5 662,229.5 660,231.5 658.5,230.5 656.5,229.5 654.5,230 652,230.5 650,230 649,228.5 651,227 654,226 656.5,225.5 657.8,224 657.5,221.8 659,222.5 660.5,221 661.5,218.5 660.5,215.5 659.8,213.5Z"/>
<path d="M646.5,232 648.5,230.5 650.5,231.5 652,233 652.5,235.5 651.8,237.5 650,237 649,234.5 647.2,233.5Z"/>
<path d="M653,231 655.5,230 657,231 655,232.5 653.5,232.5Z"/>
</g>
<g fill="#fc8d59">
<path d="M628,214 630,211.5 632.5,210 635,208.5 637.2,207.8 637.5,209.5 636.5,211.5 635,213.5 635,215.5 636.5,217.5 637.8,218.5 635,219.5 632.5,220 631,218.5 630.5,216Z"/>
</g>
<g fill="#fef0d9">
<path d="M635,219.5 637.8,218.5 640,220.5 642.5,223.5 643.8,226.5 642.5,228.5 640,229.2 638,228 637,225 636,222Z"/>
<path d="M2,260.8 3.4,261 3.6,262 2.2,261.8Z"/>
<path d="M5,262.4 7.6,263.2 8,264.4 5.6,263.6Z"/>
<path d="M9,266 11.2,266.4 12,268.4 10,269.4 9,268Z"/>
</g>
<g fill="url(#hatch)" stroke="#d6d6d6">
<path d="M727,338 731,340 730.4,341 726.8,339Z"/>
<path d="M731,341 734.4,343.2 733.6,344.2 730.6,342.2Z"/>
<path d="M730,344.4 735,346.6 734.4,347.6 729.8,345.6Z"/>
<path d="M743.2,357.4 744.4,357.4 745,361.8 743.8,362.2Z"/>
<path d="M766,364.4 769,363.6 769.6,365.6 767,366.4Z"/>
<path d="M770.4,362 773.6,361 774,362.4 771,363.6Z"/>
</g>
<g fill="#fc8d59">
<path d="M220.8,291.5 222.8,290.8 223.2,292.2 221.5,293Z"/>
</g>
<g fill="#fdd49e">
<path d="M427,119.2 436,118.6 436.5,120.2 429,120.6Z"/>
</g>
<g fill="none" stroke-width="0.5" stroke-opacity="0.8">
<path d="M199.6,268 200,272.4"/>
<path d="M127.8,141.6 104.4,163.2 107,165 111,165.6 112.4,170 114,174.4"/>
<path d="M114,191.4 171,191.4 171,191.4 178,192.4 186,195.6 191,200 193,205 188,209.6 192,209.4 200,206.4 210,203 217,199 220,196 222.4,199 223,202"/>
<path d="M405.5,206 406,209 405,211M406,209 408.5,209.5 411.5,209"/>
<path d="M350,254 350,278.5 344,279 336,280 335,279 333,277 330,275.5 326,275.5M336,280 336.5,283.5 336,285.5 332,286M324.5,284 329.5,284 331,283 329,282 324.5,282.5M336,285.5 340,287.5 342,287M344,293 346,292.5 350,292 351,292M356,293.5 355.5,298 356,302 356,306M365,290 364,293 364.5,298 364,303 363,305M366.5,290.5 366.5,304M368,288 366.5,290.5"/>
<path d="M417,276 414,280 416,286 419,290"/>
<path d="M390,363.6 398,364.4 410,365 415,365.6 421,364 425,365M410,366 409.6,376 408,377 408,388M415,365.6 420,366 425,373 427,378M425,365 430,360 435,361 438,364 437.6,372 434,377 427,378M414,353 418,348 424,349 429,352 428,344 430,340 435,341 438,343 440,350 438,355 433,357 430,360M414,353 413,360 415,365.6M391,333 396,335 401,335.6 403,339 408,338 413,338 414,347 418,348M391,332 396,330 399,326 402.4,320 404,314 405,309M430,340 431,332 430,326 432,321 434,316 433,310M432,322 442,321.6 454,331M455.6,348 448,350 442,349 443,355 444,360 440,357 438,355M438,343 441,345 442,349M433,310 443,309 444,316 442,321M443,309 451,311 458,312M430,326 434,325 433.6,328 430.6,328.4M434.4,380 437,387"/>
<path d="M389,316 384.5,316.5M393,313.5 396,315 396.5,319 396,324 393.5,325 391.5,324.5 390,327 392,329.5 390.5,331.5M390.5,331.5 392.5,333 391.5,334"/>
<path d="M447,273 446,280 450,280.5 454,282 458,285.5 459.5,287.5M446,280 444.5,284 443,289 441,295M459,287 459.5,289.5 461,290M444,304 449,308 453,309.5 457,309 462,307"/>
</g>
</g>
<g id="legend">
<text class="leg" x="239.5" y="510.2" font-size="13.3" text-anchor="middle" textLength="46" lengthAdjust="spacingAndGlyphs">No data</text>
<rect x="215.5" y="517.2" width="48.3" height="11" rx="1.5" fill="#fff" stroke="none"/><rect x="215.5" y="517.2" width="48.3" height="11" rx="1.5" fill="url(#hatch)" stroke="#ccc" stroke-width="1"/>
<line x1="239.6" y1="513.8" x2="239.6" y2="517" stroke="#888" stroke-width="0.8"/>
<g stroke="#ccc" stroke-width="0.6">
<rect x="283" y="517.2" width="58.5" height="11" fill="#fef0d9"/>
<rect x="341.5" y="517.2" width="58.5" height="11" fill="#fdd49e"/>
<rect x="400" y="517.2" width="58.5" height="11" fill="#fdbb84"/>
<rect x="458.5" y="517.2" width="58.5" height="11" fill="#fc8d59"/>
<rect x="517" y="517.2" width="58.5" height="11" fill="#e34a33"/>
<rect x="575.5" y="517.2" width="58.5" height="11" fill="#b30000"/>
</g>
<g stroke="#bdbdbd" stroke-width="0.7">
<line x1="283" y1="513.8" x2="283" y2="528.2"/>
<line x1="341.5" y1="513.8" x2="341.5" y2="528.2"/>
<line x1="400" y1="513.8" x2="400" y2="528.2"/>
<line x1="458.5" y1="513.8" x2="458.5" y2="528.2"/>
<line x1="517" y1="513.8" x2="517" y2="528.2"/>
<line x1="575.5" y1="513.8" x2="575.5" y2="528.2"/>
<line x1="634" y1="513.8" x2="634" y2="528.2"/>
</g>
<g class="leg" font-size="13.5" text-anchor="middle">
<text x="283" y="510.2" textLength="18.2" lengthAdjust="spacingAndGlyphs">0%</text>
<text x="341.5" y="510.2" textLength="18.2" lengthAdjust="spacingAndGlyphs">1%</text>
<text x="400" y="510.2" textLength="18.2" lengthAdjust="spacingAndGlyphs">3%</text>
<text x="458.5" y="510.2" textLength="18.2" lengthAdjust="spacingAndGlyphs">5%</text>
<text x="517" y="510.2" textLength="25.4" lengthAdjust="spacingAndGlyphs">10%</text>
<text x="575.5" y="510.2" textLength="25.4" lengthAdjust="spacingAndGlyphs">30%</text>
<text x="634" y="510.2" textLength="25.4" lengthAdjust="spacingAndGlyphs">50%</text>
</g>
</g>
<g id="footer" class="foot" font-size="12.9">
<text x="16" y="561.3" font-weight="700" textLength="72" lengthAdjust="spacingAndGlyphs">Data source:</text>
<text x="91.8" y="561.3" textLength="172.7" lengthAdjust="spacingAndGlyphs">Smith-Greenaway et al. (2021)</text>
<text x="579" y="561.3" font-size="13" textLength="251" lengthAdjust="spacing">OurWorldinData.org/child-mortality | CC BY</text>
<text x="16" y="581.3" font-weight="700" textLength="32.5" lengthAdjust="spacingAndGlyphs">Note:</text>
<text x="52.3" y="581.3" textLength="560.2" lengthAdjust="spacingAndGlyphs">Data points are taken as single-year estimates between 2010 and 2018, depending on the country.</text>
</g>
</svg>
</body>
</html>
